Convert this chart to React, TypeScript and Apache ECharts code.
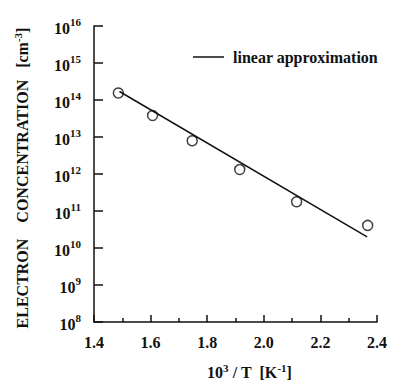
import React, { useEffect, useRef } from "react";
import * as echarts from "echarts";

const measuredX = [1.486, 1.607, 1.747, 1.915, 2.116, 2.367];
const measuredLog = [14.19, 13.58, 12.9, 12.12, 11.25, 10.61];
const fitX = [1.49, 2.365];
const fitLog = [14.23, 10.3];
const xTicks = { min: 1.4, max: 2.4, interval: 0.2 };
const yDecades = { min: 8, max: 16 };

const FONT = "'Liberation Serif', 'Times New Roman', serif";
const b = { fontFamily: FONT, fontWeight: "bold", fontSize: 16, color: "#111" };
const s = { fontFamily: FONT, fontWeight: "bold", fontSize: 11, color: "#111" };

export default function App() {
  const ref = useRef<HTMLDivElement>(null);
  useEffect(() => {
    if (!ref.current) return;
    const chart = echarts.init(ref.current, null, { renderer: "svg" });
    const measured = measuredX.map((x, i) => [x, Math.pow(10, measuredLog[i])]);
    const fit = fitX.map((x, i) => [x, Math.pow(10, fitLog[i])]);
    chart.setOption({
      animation: false,
      backgroundColor: "#fff",
      textStyle: { fontFamily: FONT },
      grid: { left: 94, top: 26, right: 18, bottom: 57 },
      legend: {
        left: 188,
        top: 44,
        itemWidth: 31,
        itemHeight: 1.5,
        icon: "rect",
        itemStyle: { color: "#111", borderWidth: 0 },
        data: [{ name: "linear approximation" }],
        textStyle: { ...b, padding: [0, 0, 0, 4] },
      },
      xAxis: {
        type: "value",
        min: xTicks.min,
        max: xTicks.max,
        interval: xTicks.interval,
        splitLine: { show: false },
        axisLine: { lineStyle: { color: "#111", width: 1.5 } },
        axisTick: { inside: true, length: 7, lineStyle: { color: "#111", width: 1.5 } },
        minorTick: { show: true, splitNumber: 2, length: 4, lineStyle: { color: "#111", width: 1.5 } },
        axisLabel: {
          margin: 12,
          ...b,
          formatter: (v: number) => v.toFixed(1),
        },
        name: "{b|10}{s|3}{b| / T  [K}{s|-1}{b|]}",
        nameLocation: "middle",
        nameGap: 40,
        nameTextStyle: {
          padding: [0, 0, 0, 28],
          rich: {
            b: { ...b, lineHeight: 18, verticalAlign: "bottom" },
            s: { ...s, lineHeight: 18, verticalAlign: "top" },
          },
        },
      },
      yAxis: {
        type: "log",
        logBase: 10,
        min: Math.pow(10, yDecades.min),
        max: Math.pow(10, yDecades.max),
        splitNumber: 8,
        splitLine: { show: false },
        axisLine: { lineStyle: { color: "#111", width: 1.5 } },
        axisTick: { inside: true, length: 9, lineStyle: { color: "#111", width: 1.5 } },
        axisLabel: {
          margin: 13,
          formatter: (v: number) => `{b|10}{s|${Math.round(Math.log10(v))}}`,
          rich: {
            b: { ...b, lineHeight: 20, verticalAlign: "bottom" },
            s: { ...s, lineHeight: 20, verticalAlign: "top" },
          },
        },
        name: "{b|ELECTRON    CONCENTRATION   [cm}{s|-3}{b|]}",
        nameLocation: "middle",
        nameGap: 64,
        nameTextStyle: {
          padding: [0, 8, 0, 0],
          rich: {
            b: { ...b, lineHeight: 18, verticalAlign: "bottom" },
            s: { ...s, lineHeight: 18, verticalAlign: "top" },
          },
        },
      },
      series: [
        {
          name: "linear approximation",
          type: "line",
          data: fit,
          symbol: "none",
          lineStyle: { color: "#111", width: 1.5 },
          itemStyle: { color: "#111" },
        },
        {
          name: "measured",
          type: "scatter",
          data: measured,
          symbol: "circle",
          symbolSize: 10,
          itemStyle: { color: "#fff", borderColor: "#111", borderWidth: 1.5 },
        },
      ],
    });
    return () => chart.dispose();
  }, []);
  return <div ref={ref} style={{ width: 395, height: 385, position: "absolute", left: 0, top: 0 }} />;
}
